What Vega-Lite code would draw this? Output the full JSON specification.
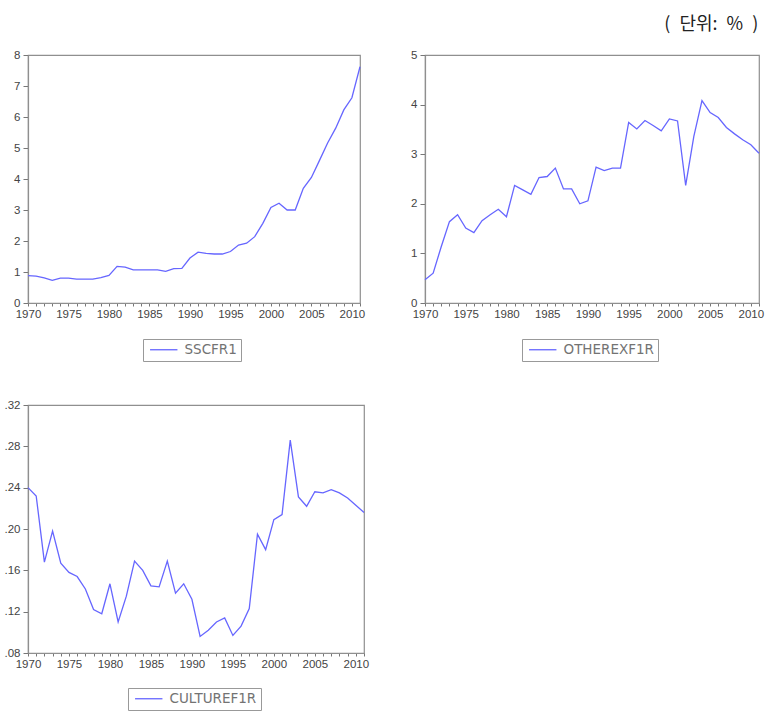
{
  "$schema": "https://vega.github.io/schema/vega-lite/v6.json",
  "padding": {"left": 3, "top": 16, "right": 2, "bottom": 0},
  "title": {
    "text": "(\u2002단위:\u2002%\u2002)",
    "anchor": "end",
    "frame": "bounds",
    "dx": -6,
    "font": "Noto Sans CJK KR",
    "fontSize": 18,
    "fontWeight": "normal",
    "color": "#222222",
    "offset": 14
  },
  "data": {
    "values": [
      {"series": "SSCFR1", "year": 1970, "value": 0.88},
      {"series": "SSCFR1", "year": 1971, "value": 0.87},
      {"series": "SSCFR1", "year": 1972, "value": 0.81},
      {"series": "SSCFR1", "year": 1973, "value": 0.73},
      {"series": "SSCFR1", "year": 1974, "value": 0.80},
      {"series": "SSCFR1", "year": 1975, "value": 0.80},
      {"series": "SSCFR1", "year": 1976, "value": 0.77},
      {"series": "SSCFR1", "year": 1977, "value": 0.77},
      {"series": "SSCFR1", "year": 1978, "value": 0.77},
      {"series": "SSCFR1", "year": 1979, "value": 0.82},
      {"series": "SSCFR1", "year": 1980, "value": 0.89},
      {"series": "SSCFR1", "year": 1981, "value": 1.18},
      {"series": "SSCFR1", "year": 1982, "value": 1.16},
      {"series": "SSCFR1", "year": 1983, "value": 1.07},
      {"series": "SSCFR1", "year": 1984, "value": 1.07},
      {"series": "SSCFR1", "year": 1985, "value": 1.07},
      {"series": "SSCFR1", "year": 1986, "value": 1.07},
      {"series": "SSCFR1", "year": 1987, "value": 1.02},
      {"series": "SSCFR1", "year": 1988, "value": 1.11},
      {"series": "SSCFR1", "year": 1989, "value": 1.12},
      {"series": "SSCFR1", "year": 1990, "value": 1.45},
      {"series": "SSCFR1", "year": 1991, "value": 1.64},
      {"series": "SSCFR1", "year": 1992, "value": 1.60},
      {"series": "SSCFR1", "year": 1993, "value": 1.58},
      {"series": "SSCFR1", "year": 1994, "value": 1.58},
      {"series": "SSCFR1", "year": 1995, "value": 1.66},
      {"series": "SSCFR1", "year": 1996, "value": 1.87},
      {"series": "SSCFR1", "year": 1997, "value": 1.93},
      {"series": "SSCFR1", "year": 1998, "value": 2.14},
      {"series": "SSCFR1", "year": 1999, "value": 2.57},
      {"series": "SSCFR1", "year": 2000, "value": 3.08},
      {"series": "SSCFR1", "year": 2001, "value": 3.22},
      {"series": "SSCFR1", "year": 2002, "value": 3.00},
      {"series": "SSCFR1", "year": 2003, "value": 3.00},
      {"series": "SSCFR1", "year": 2004, "value": 3.70},
      {"series": "SSCFR1", "year": 2005, "value": 4.05},
      {"series": "SSCFR1", "year": 2006, "value": 4.60},
      {"series": "SSCFR1", "year": 2007, "value": 5.16},
      {"series": "SSCFR1", "year": 2008, "value": 5.64},
      {"series": "SSCFR1", "year": 2009, "value": 6.23},
      {"series": "SSCFR1", "year": 2010, "value": 6.62},
      {"series": "SSCFR1", "year": 2011, "value": 7.62},

      {"series": "OTHEREXF1R", "year": 1970, "value": 0.47},
      {"series": "OTHEREXF1R", "year": 1971, "value": 0.60},
      {"series": "OTHEREXF1R", "year": 1972, "value": 1.14},
      {"series": "OTHEREXF1R", "year": 1973, "value": 1.64},
      {"series": "OTHEREXF1R", "year": 1974, "value": 1.78},
      {"series": "OTHEREXF1R", "year": 1975, "value": 1.51},
      {"series": "OTHEREXF1R", "year": 1976, "value": 1.42},
      {"series": "OTHEREXF1R", "year": 1977, "value": 1.66},
      {"series": "OTHEREXF1R", "year": 1978, "value": 1.78},
      {"series": "OTHEREXF1R", "year": 1979, "value": 1.89},
      {"series": "OTHEREXF1R", "year": 1980, "value": 1.74},
      {"series": "OTHEREXF1R", "year": 1981, "value": 2.37},
      {"series": "OTHEREXF1R", "year": 1982, "value": 2.28},
      {"series": "OTHEREXF1R", "year": 1983, "value": 2.19},
      {"series": "OTHEREXF1R", "year": 1984, "value": 2.53},
      {"series": "OTHEREXF1R", "year": 1985, "value": 2.55},
      {"series": "OTHEREXF1R", "year": 1986, "value": 2.72},
      {"series": "OTHEREXF1R", "year": 1987, "value": 2.30},
      {"series": "OTHEREXF1R", "year": 1988, "value": 2.30},
      {"series": "OTHEREXF1R", "year": 1989, "value": 2.00},
      {"series": "OTHEREXF1R", "year": 1990, "value": 2.06},
      {"series": "OTHEREXF1R", "year": 1991, "value": 2.74},
      {"series": "OTHEREXF1R", "year": 1992, "value": 2.67},
      {"series": "OTHEREXF1R", "year": 1993, "value": 2.72},
      {"series": "OTHEREXF1R", "year": 1994, "value": 2.72},
      {"series": "OTHEREXF1R", "year": 1995, "value": 3.64},
      {"series": "OTHEREXF1R", "year": 1996, "value": 3.51},
      {"series": "OTHEREXF1R", "year": 1997, "value": 3.68},
      {"series": "OTHEREXF1R", "year": 1998, "value": 3.58},
      {"series": "OTHEREXF1R", "year": 1999, "value": 3.47},
      {"series": "OTHEREXF1R", "year": 2000, "value": 3.71},
      {"series": "OTHEREXF1R", "year": 2001, "value": 3.67},
      {"series": "OTHEREXF1R", "year": 2002, "value": 2.37},
      {"series": "OTHEREXF1R", "year": 2003, "value": 3.36},
      {"series": "OTHEREXF1R", "year": 2004, "value": 4.08},
      {"series": "OTHEREXF1R", "year": 2005, "value": 3.84},
      {"series": "OTHEREXF1R", "year": 2006, "value": 3.74},
      {"series": "OTHEREXF1R", "year": 2007, "value": 3.54},
      {"series": "OTHEREXF1R", "year": 2008, "value": 3.41},
      {"series": "OTHEREXF1R", "year": 2009, "value": 3.29},
      {"series": "OTHEREXF1R", "year": 2010, "value": 3.19},
      {"series": "OTHEREXF1R", "year": 2011, "value": 3.02},

      {"series": "CULTUREF1R", "year": 1970, "value": 0.240},
      {"series": "CULTUREF1R", "year": 1971, "value": 0.232},
      {"series": "CULTUREF1R", "year": 1972, "value": 0.168},
      {"series": "CULTUREF1R", "year": 1973, "value": 0.198},
      {"series": "CULTUREF1R", "year": 1974, "value": 0.167},
      {"series": "CULTUREF1R", "year": 1975, "value": 0.158},
      {"series": "CULTUREF1R", "year": 1976, "value": 0.154},
      {"series": "CULTUREF1R", "year": 1977, "value": 0.142},
      {"series": "CULTUREF1R", "year": 1978, "value": 0.122},
      {"series": "CULTUREF1R", "year": 1979, "value": 0.118},
      {"series": "CULTUREF1R", "year": 1980, "value": 0.147},
      {"series": "CULTUREF1R", "year": 1981, "value": 0.110},
      {"series": "CULTUREF1R", "year": 1982, "value": 0.135},
      {"series": "CULTUREF1R", "year": 1983, "value": 0.169},
      {"series": "CULTUREF1R", "year": 1984, "value": 0.160},
      {"series": "CULTUREF1R", "year": 1985, "value": 0.145},
      {"series": "CULTUREF1R", "year": 1986, "value": 0.144},
      {"series": "CULTUREF1R", "year": 1987, "value": 0.169},
      {"series": "CULTUREF1R", "year": 1988, "value": 0.138},
      {"series": "CULTUREF1R", "year": 1989, "value": 0.147},
      {"series": "CULTUREF1R", "year": 1990, "value": 0.132},
      {"series": "CULTUREF1R", "year": 1991, "value": 0.096},
      {"series": "CULTUREF1R", "year": 1992, "value": 0.102},
      {"series": "CULTUREF1R", "year": 1993, "value": 0.110},
      {"series": "CULTUREF1R", "year": 1994, "value": 0.114},
      {"series": "CULTUREF1R", "year": 1995, "value": 0.097},
      {"series": "CULTUREF1R", "year": 1996, "value": 0.106},
      {"series": "CULTUREF1R", "year": 1997, "value": 0.123},
      {"series": "CULTUREF1R", "year": 1998, "value": 0.195},
      {"series": "CULTUREF1R", "year": 1999, "value": 0.180},
      {"series": "CULTUREF1R", "year": 2000, "value": 0.209},
      {"series": "CULTUREF1R", "year": 2001, "value": 0.214},
      {"series": "CULTUREF1R", "year": 2002, "value": 0.286},
      {"series": "CULTUREF1R", "year": 2003, "value": 0.231},
      {"series": "CULTUREF1R", "year": 2004, "value": 0.222},
      {"series": "CULTUREF1R", "year": 2005, "value": 0.236},
      {"series": "CULTUREF1R", "year": 2006, "value": 0.235},
      {"series": "CULTUREF1R", "year": 2007, "value": 0.238},
      {"series": "CULTUREF1R", "year": 2008, "value": 0.235},
      {"series": "CULTUREF1R", "year": 2009, "value": 0.230},
      {"series": "CULTUREF1R", "year": 2010, "value": 0.223},
      {"series": "CULTUREF1R", "year": 2011, "value": 0.216}
    ]
  },
  "spacing": 35,
  "resolve": {"scale": {"color": "independent"}, "legend": {"color": "independent"}},
  "vconcat": [
    {
      "spacing": 44,
      "resolve": {"scale": {"color": "independent"}, "legend": {"color": "independent"}},
      "hconcat": [
        {
          "width": 332,
          "height": 248,
          "transform": [{"filter": "datum.series === 'SSCFR1'"}],
          "mark": {"type": "line"},
          "encoding": {
            "x": {
              "field": "year", "type": "quantitative",
              "scale": {"domain": [1970, 2011], "nice": false, "zero": false},
              "axis": {
                "title": null, "format": "d",
                "values": [1970,1971,1972,1973,1974,1975,1976,1977,1978,1979,1980,1981,1982,1983,1984,1985,1986,1987,1988,1989,1990,1991,1992,1993,1994,1995,1996,1997,1998,1999,2000,2001,2002,2003,2004,2005,2006,2007,2008,2009,2010,2011],
                "labelExpr": "datum.value % 5 === 0 ? datum.label : ''"
              }
            },
            "y": {
              "field": "value", "type": "quantitative",
              "scale": {"domain": [0, 8], "nice": false},
              "axis": {"title": null, "values": [0,1,2,3,4,5,6,7,8], "format": "d"}
            },
            "color": {
              "field": "series", "type": "nominal",
              "scale": {"range": ["#6666ff"]},
              "legend": {"orient": "none", "legendX": 115, "legendY": 284}
            }
          }
        },
        {
          "width": 334,
          "height": 248,
          "transform": [{"filter": "datum.series === 'OTHEREXF1R'"}],
          "mark": {"type": "line"},
          "encoding": {
            "x": {
              "field": "year", "type": "quantitative",
              "scale": {"domain": [1970, 2011], "nice": false, "zero": false},
              "axis": {
                "title": null, "format": "d",
                "values": [1970,1971,1972,1973,1974,1975,1976,1977,1978,1979,1980,1981,1982,1983,1984,1985,1986,1987,1988,1989,1990,1991,1992,1993,1994,1995,1996,1997,1998,1999,2000,2001,2002,2003,2004,2005,2006,2007,2008,2009,2010,2011],
                "labelExpr": "datum.value % 5 === 0 ? datum.label : ''"
              }
            },
            "y": {
              "field": "value", "type": "quantitative",
              "scale": {"domain": [0, 5], "nice": false},
              "axis": {"title": null, "values": [0,1,2,3,4,5], "format": "d"}
            },
            "color": {
              "field": "series", "type": "nominal",
              "scale": {"range": ["#6666ff"]},
              "legend": {"orient": "none", "legendX": 97, "legendY": 284}
            }
          }
        }
      ]
    },
    {
      "width": 336,
      "height": 248,
      "transform": [{"filter": "datum.series === 'CULTUREF1R'"}],
      "mark": {"type": "line"},
      "encoding": {
        "x": {
          "field": "year", "type": "quantitative",
          "scale": {"domain": [1970, 2011], "nice": false, "zero": false},
          "axis": {
            "title": null, "format": "d",
            "values": [1970,1971,1972,1973,1974,1975,1976,1977,1978,1979,1980,1981,1982,1983,1984,1985,1986,1987,1988,1989,1990,1991,1992,1993,1994,1995,1996,1997,1998,1999,2000,2001,2002,2003,2004,2005,2006,2007,2008,2009,2010,2011],
            "labelExpr": "datum.value % 5 === 0 ? datum.label : ''"
          }
        },
        "y": {
          "field": "value", "type": "quantitative",
          "scale": {"domain": [0.08, 0.32], "nice": false, "zero": false},
          "axis": {
            "title": null,
            "values": [0.08, 0.12, 0.16, 0.20, 0.24, 0.28, 0.32],
            "labelExpr": "replace(format(datum.value, '.2f'), '0.', '.')"
          }
        },
        "color": {
          "field": "series", "type": "nominal",
          "scale": {"range": ["#6666ff"]},
          "legend": {"orient": "none", "legendX": 100, "legendY": 283}
        }
      }
    }
  ],
  "config": {
    "background": "white",
    "view": {"stroke": "#8f8f8f", "strokeWidth": 1.2},
    "line": {"strokeWidth": 1.3},
    "axis": {
      "grid": false,
      "domainColor": "#8f8f8f",
      "domainWidth": 1.2,
      "tickColor": "#777777",
      "labelFont": "Liberation Sans",
      "labelFontSize": 11.5,
      "labelColor": "#444444",
      "labelFlush": false,
      "labelOverlap": false
    },
    "axisX": {"tickSize": 3, "labelPadding": 2},
    "axisY": {"tickSize": 5, "labelPadding": 3},
    "legend": {
      "title": null,
      "padding": 4,
      "strokeColor": "#999999",
      "labelFont": "DejaVu Sans",
      "labelFontSize": 13.5,
      "labelColor": "#737373",
      "symbolType": "M -2.5 0 H 2.5",
      "symbolSize": 120,
      "symbolOffset": 10,
      "labelOffset": 14,
      "symbolStrokeWidth": 1.5
    }
  }
}
